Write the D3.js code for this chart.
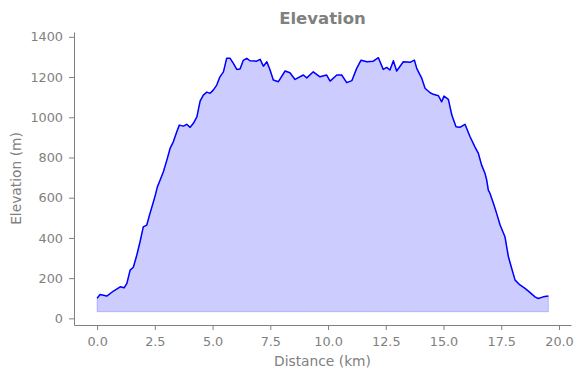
<!DOCTYPE html>
<html>
<head>
<meta charset="utf-8">
<script src="https://cdn.jsdelivr.net/npm/d3@7"></script>
<style>
  body { margin: 0; background: white; }
  svg text { font-family: "DejaVu Sans", sans-serif; fill: gray; }
</style>
</head>
<body>
<div id="container"></div>
<script>
let w = 583;
let h = 378;

// distance along route (km) and elevation (m)
let distanceKm = [0.00, 0.13, 0.42, 0.71, 1.00, 1.17, 1.29, 1.43, 1.57, 1.72,
  1.86, 2.00, 2.15, 2.29, 2.44, 2.52, 2.61, 2.73, 2.87, 3.02,
  3.16, 3.30, 3.45, 3.56, 3.74, 3.88, 4.03, 4.17, 4.32, 4.46,
  4.60, 4.75, 4.89, 5.03, 5.18, 5.32, 5.47, 5.61, 5.76, 5.90,
  6.05, 6.19, 6.33, 6.48, 6.62, 6.91, 7.06, 7.20, 7.35, 7.49,
  7.63, 7.85, 8.14, 8.35, 8.57, 8.93, 9.08, 9.36, 9.65, 9.94,
  10.09, 10.38, 10.59, 10.81, 11.03, 11.24, 11.43, 11.68, 11.96, 12.18,
  12.39, 12.54, 12.68, 12.83, 12.97, 13.26, 13.55, 13.74, 13.84, 14.06,
  14.20, 14.42, 14.56, 14.78, 14.92, 15.02, 15.21, 15.36, 15.54, 15.71,
  15.93, 16.15, 16.36, 16.51, 16.65, 16.80, 16.87, 16.94, 17.01, 17.16,
  17.30, 17.45, 17.66, 17.81, 17.95, 18.10, 18.31, 18.53, 18.74, 18.96,
  19.10, 19.32, 19.54];
let elevationM = [100, 119, 111, 136, 157, 152, 174, 240, 254, 315,
  381, 455, 464, 522, 580, 613, 654, 688, 729, 787,
  845, 878, 928, 961, 956, 965, 950, 970, 1002, 1080,
  1110, 1125, 1119, 1135, 1160, 1201, 1226, 1293, 1293, 1268,
  1238, 1240, 1283, 1293, 1281, 1279, 1288, 1254, 1276, 1235,
  1185, 1177, 1230, 1221, 1188, 1210, 1196, 1226, 1201, 1210,
  1180, 1210, 1210, 1172, 1182, 1243, 1284, 1276, 1279, 1296,
  1238, 1248, 1235, 1281, 1230, 1276, 1273, 1284, 1243, 1193,
  1144, 1122, 1114, 1107, 1077, 1105, 1089, 1011, 953, 950,
  965, 903, 853, 820, 762, 720, 688, 638, 622, 572,
  522, 464, 406, 306, 249, 190, 166, 149, 129, 107,
  99, 107, 111];
let fillBase = 33;

let xTicks = [0, 2.5, 5, 7.5, 10, 12.5, 15, 17.5, 20];
let yTicks = [0, 200, 400, 600, 800, 1000, 1200, 1400];

let points = distanceKm.map(function(d, i) { return { km: d, m: elevationM[i] }; });

let viz = d3.select("#container").append("svg")
  .attr("width", w)
  .attr("height", h)
  .style("background-color", "white");

let xScale = d3.scaleLinear().domain([-1.0, 20.52]).range([74, 571]);
let yScale = d3.scaleLinear().domain([-33, 1424]).range([325, 32]);

// filled area under the profile
let area = d3.area()
  .x(function(d) { return xScale(d.km); })
  .y0(yScale(fillBase))
  .y1(function(d) { return yScale(d.m); });

viz.append("path")
  .datum(points)
  .attr("d", area)
  .attr("fill", "rgba(0,0,255,0.2)")
  .attr("stroke", "rgba(0,0,255,0.2)")
  .attr("stroke-width", 1);

let line = d3.line()
  .x(function(d) { return xScale(d.km); })
  .y(function(d) { return yScale(d.m); });

viz.append("path")
  .datum(points)
  .attr("d", line)
  .attr("fill", "none")
  .attr("stroke", "blue")
  .attr("stroke-width", 1.5)
  .attr("stroke-linejoin", "round");

// axes
let xAxis = d3.axisBottom(xScale).tickValues(xTicks).tickFormat(d3.format(".1f"))
  .tickSize(5).tickPadding(6.5).tickSizeOuter(0);
let xAxisGroup = viz.append("g").attr("class", "xAxis")
  .attr("transform", "translate(0, 325)")
  .call(xAxis);

let yAxis = d3.axisLeft(yScale).tickValues(yTicks).tickFormat(d3.format("d"))
  .tickSize(5).tickPadding(6).tickSizeOuter(0);
let yAxisGroup = viz.append("g").attr("class", "yAxis")
  .attr("transform", "translate(74, 0)")
  .call(yAxis);

viz.selectAll(".xAxis path, .yAxis path, .xAxis line, .yAxis line")
  .attr("stroke", "gray");
viz.selectAll(".xAxis text, .yAxis text")
  .attr("fill", "gray")
  .style("font-size", "12.8px")
  .style("font-family", "DejaVu Sans, sans-serif");

// titles
viz.append("text")
  .attr("x", 322.5)
  .attr("y", 24)
  .attr("text-anchor", "middle")
  .style("font-size", "16.5px")
  .style("font-weight", "bold")
  .text("Elevation");

viz.append("text")
  .attr("x", 322.5)
  .attr("y", 366)
  .attr("text-anchor", "middle")
  .style("font-size", "13.8px")
  .text("Distance (km)");

viz.append("text")
  .attr("transform", "translate(20.5, 178.5) rotate(-90)")
  .attr("text-anchor", "middle")
  .style("font-size", "13.8px")
  .text("Elevation (m)");
</script>
</body>
</html>
